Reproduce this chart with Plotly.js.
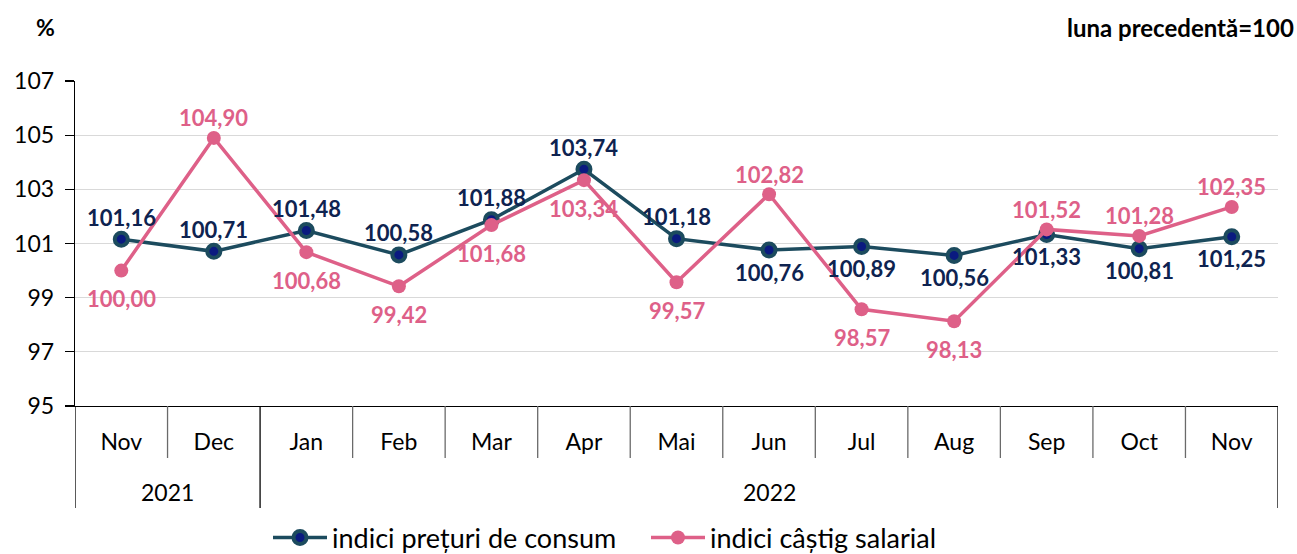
<!DOCTYPE html>
<html>
<head>
<meta charset="utf-8">
<script src="https://cdn.plot.ly/plotly-3.0.1.min.js"></script>
<style>
html,body{margin:0;padding:0;background:#fff;}
#chart{width:1297px;height:554px;}
</style>
</head>
<body>
<div id="chart"></div>
<script>
const years = ["2021","2021","2022","2022","2022","2022","2022","2022","2022","2022","2022","2022","2022"];
const months = ["Nov","Dec","Jan","Feb","Mar","Apr","Mai","Jun","Jul","Aug","Sep","Oct","Nov"];
const cpi = [101.16,100.71,101.48,100.58,101.88,103.74,101.18,100.76,100.89,100.56,101.33,100.81,101.25];
const wages = [100.00,104.90,100.68,99.42,101.68,103.34,99.57,102.82,98.57,98.13,101.52,101.28,102.35];
// label placement: 1 = above the point, -1 = below
const cpiSide = [1,1,1,1,1,1,1,-1,-1,-1,-1,-1,-1];
const wageSide = [-1,1,-1,-1,-1,-1,-1,1,-1,-1,1,1,1];
const yTicks = [95,97,99,101,103,105,107];

// unique category keys (month + year), displayed as month names
const cats = months.map((m, i) => m + " " + years[i]);

const FONT = "Lato, 'Open Sans', sans-serif";
const blue = "#1C4B5E", blueFill = "#0A1A80", blueText = "#0E2350";
const pink = "#DE6088", pinkText = "#DE6088";

const traces = [
  {
    x: cats, y: cpi, type: "scatter", mode: "lines+markers",
    name: "indici prețuri de consum",
    line: {color: blue, width: 3.5},
    marker: {size: 13, color: blueFill, line: {color: blue, width: 4}},
    cliponaxis: false, hoverinfo: "skip"
  },
  {
    x: cats, y: wages, type: "scatter", mode: "lines+markers",
    name: "indici câștig salarial",
    line: {color: pink, width: 3.5},
    marker: {size: 14, color: pink, line: {color: pink, width: 0}},
    cliponaxis: false, hoverinfo: "skip"
  }
];

const fmt = v => v.toFixed(2).replace(".", ",");

// group (year) layout derived from the years array
const groups = [];
years.forEach((y, i) => {
  const g = groups[groups.length - 1];
  if (g && g.year === y) g.end = i; else groups.push({year: y, start: i, end: i});
});

const shapes = [];
for (let i = 0; i < cats.length - 1; i++) {
  const boundary = groups.some(g => g.end === i);
  if (!boundary) shapes.push({type: "line", xref: "x", yref: "paper", x0: i + 0.5, x1: i + 0.5, y0: 0, y1: -52/325,
    line: {color: "#6a6a6a", width: 1.3}});
}
groups.forEach((g, k) => {
  if (k === 0) shapes.push({type: "line", xref: "x", yref: "paper", x0: g.start - 0.5, x1: g.start - 0.5, y0: 0, y1: -102/325, line: {color: "#000", width: 1.3}});
  shapes.push({type: "line", xref: "x", yref: "paper", x0: g.end + 0.5, x1: g.end + 0.5, y0: 0, y1: -102/325, line: {color: "#000", width: 1.3}});
});

const annotations = [
  {text: "<b>%</b>", xref: "paper", yref: "paper", x: (45-75)/1203, y: (406-27)/325,
   xanchor: "center", yanchor: "middle", showarrow: false, font: {family: FONT, size: 23, color: "#000"}},
  {text: "<b>luna precedentă=100</b>", xref: "paper", yref: "paper", x: (1296-75)/1203, y: (406-27)/325,
   xanchor: "right", yanchor: "middle", showarrow: false, font: {family: FONT, size: 24, color: "#000"}}
];
groups.forEach(g => {
  annotations.push({text: g.year, xref: "x", yref: "paper", x: (g.start + g.end) / 2, y: (406-492)/325,
    xanchor: "center", yanchor: "middle", showarrow: false, font: {family: FONT, size: 23, color: "#000"}});
});
// data labels
cats.forEach((c, i) => {
  annotations.push({text: "<b>" + fmt(cpi[i]) + "</b>", xref: "x", yref: "y", x: c, y: cpi[i],
    xanchor: "center", yanchor: "middle", showarrow: false, yshift: cpiSide[i] * 22,
    font: {family: FONT, size: 22, color: blueText}});
  annotations.push({text: "<b>" + fmt(wages[i]) + "</b>", xref: "x", yref: "y", x: c, y: wages[i],
    xanchor: "center", yanchor: "middle", showarrow: false, yshift: wageSide[i] > 0 ? 20 : -28,
    font: {family: FONT, size: 22, color: pinkText}});
});

const layout = {
  width: 1297, height: 554,
  margin: {l: 75, r: 19, t: 81, b: 148, autoexpand: false},
  paper_bgcolor: "#fff", plot_bgcolor: "#fff",
  font: {family: FONT, color: "#000"},
  showlegend: true,
  legend: {
    orientation: "h", x: (268-75)/1203, y: (406-538)/325, xanchor: "left", yanchor: "middle",
    entrywidth: 309, entrywidthmode: "pixels", itemwidth: 54,
    font: {family: FONT, size: 27, color: "#000"}, tracegroupgap: 0, bgcolor: "rgba(0,0,0,0)"
  },
  xaxis: {
    type: "category", categoryorder: "array", categoryarray: cats,
    tickvals: cats, ticktext: months, range: [-0.5, cats.length - 0.5],
    showline: true, linecolor: "#000", linewidth: 1.3,
    ticks: "", ticklabelstandoff: 15,
    tickfont: {family: FONT, size: 23, color: "#000"},
    showgrid: false, zeroline: false, fixedrange: true
  },
  yaxis: {
    range: [95, 107], tickvals: yTicks, ticktext: yTicks.map(String),
    showline: true, linecolor: "#000", linewidth: 1.3,
    ticks: "outside", ticklen: 9, tickcolor: "#000", tickwidth: 1.3,
    showgrid: true, gridcolor: "#d9d9d9", gridwidth: 1.3,
    zeroline: false, tickfont: {family: FONT, size: 23, color: "#000"},
    ticklabelstandoff: 6, fixedrange: true
  },
  shapes: shapes,
  annotations: annotations
};

Plotly.newPlot("chart", traces, layout, {displayModeBar: false, staticPlot: true});
</script>
</body>
</html>
